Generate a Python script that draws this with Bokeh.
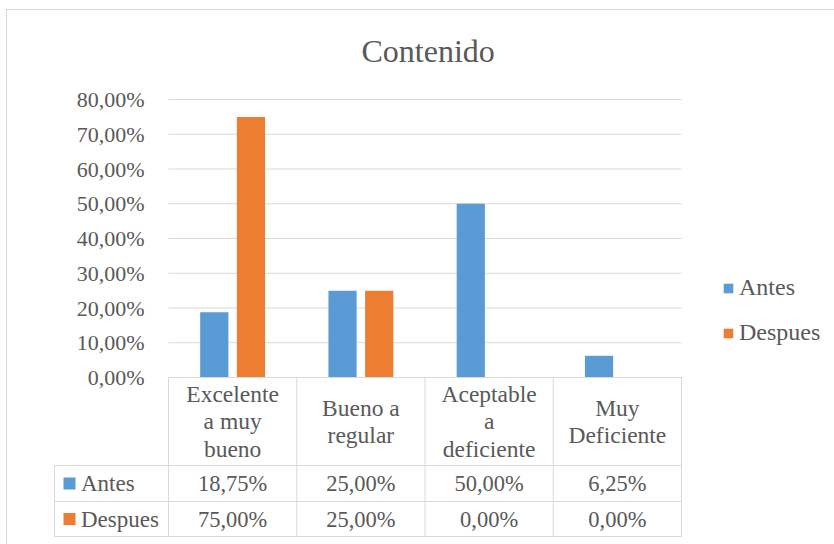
from bokeh.plotting import figure
from bokeh.models import (ColumnDataSource, Range1d, FixedTicker,
                          CustomJSTickFormatter, Legend, LegendItem)
from bokeh.core.properties import value
from bokeh.embed import file_html
from bokeh.resources import INLINE

# ---- data ----
title_text = "Contenido"
categories = ["Excelente a muy bueno", "Bueno a regular",
              "Aceptable a deficiente", "Muy Deficiente"]
header_labels = ["Excelente\na muy\nbueno", "Bueno a\nregular",
                 "Aceptable\na\ndeficiente", "Muy\nDeficiente"]
series_names = ["Antes", "Despues"]
antes = [0.1875, 0.25, 0.50, 0.0625]
despues = [0.75, 0.25, 0.0, 0.0]
y_ticks = [0.0, 0.1, 0.2, 0.3, 0.4, 0.5, 0.6, 0.7, 0.8]

# ---- style / layout ----
FONT = "'Liberation Serif', 'Times New Roman', serif"
TXT = "#595959"
GRID = "#D9D9D9"
COLORS = ["#5B9BD5", "#ED7D31"]
W, H = 834, 544
CAT_PX = 128.25          # pixels per category
Y_PX = 347.5             # pixels per 1.0 on the value axis
LEFT_BORDER = 52
PLOT_LEFT_PX = 168 - LEFT_BORDER
TOP_BORDER = 98
PY = 1.0 / Y_PX          # one pixel in value units

n = len(categories)
x_start = -PLOT_LEFT_PX / CAT_PX
x_end = x_start + (W - LEFT_BORDER) / CAT_PX
y_end = 0.8 + 1 * PY
y_start = y_end - (H - TOP_BORDER) / Y_PX


def fmt(v):
    return f"{v * 100:.2f}".replace(".", ",") + "%"


idx = list(range(n))
src = ColumnDataSource(dict(
    xa=[i + 0.5 - 0.143 for i in idx], xd=[i + 0.5 + 0.143 for i in idx],
    antes=antes, despues=despues))

border_css = ("linear-gradient(#D9D9D9,#D9D9D9) 6px 9px / 1px 100% no-repeat, "
              "linear-gradient(#D9D9D9,#D9D9D9) 6px 9px / 100% 1px no-repeat, #FFFFFF")

p = figure(width=W, height=H, x_range=Range1d(x_start, x_end),
           y_range=Range1d(y_start, y_end), output_backend="svg",
           toolbar_location=None, x_axis_location=None,
           min_border_left=LEFT_BORDER, min_border_right=0,
           min_border_top=TOP_BORDER, min_border_bottom=0, title=title_text,
           styles={"background": border_css})
p.border_fill_color = None
p.background_fill_color = None
p.outline_line_color = None
p.title.text_font = FONT
p.title.text_font_size = "32px"
p.title.text_font_style = "normal"
p.title.text_color = TXT
p.title.align = "left"
p.title.standoff = 60
p.title.offset = 309

p.yaxis.ticker = FixedTicker(ticks=y_ticks)
p.yaxis.formatter = CustomJSTickFormatter(
    code="return (tick*100).toFixed(2).replace('.', ',') + '%';")
p.yaxis.major_label_text_font = FONT
p.yaxis.major_label_text_font_size = "22px"
p.yaxis.major_label_text_color = TXT
p.yaxis.axis_line_color = None
p.yaxis.major_tick_line_color = None
p.yaxis.minor_tick_line_color = None
p.yaxis.major_tick_out = 0
p.yaxis.major_tick_in = 0
p.yaxis.major_label_standoff = -92
p.xgrid.visible = False
p.ygrid.visible = False

# horizontal gridlines over the plot area only
p.segment(x0=[0] * len(y_ticks), x1=[n] * len(y_ticks), y0=y_ticks, y1=y_ticks,
          line_color=GRID, line_width=1)

r1 = p.vbar(x="xa", top="antes", width=0.22, source=src,
            fill_color=COLORS[0], line_color=None)
r2 = p.vbar(x="xd", top="despues", width=0.22, source=src,
            fill_color=COLORS[1], line_color=None)

legend = Legend(items=[LegendItem(label=series_names[0], renderers=[r1]),
                       LegendItem(label=series_names[1], renderers=[r2])],
                location=(670, 198), glyph_width=12, glyph_height=12,
                label_text_font=FONT, label_text_font_size="24px",
                label_text_color=TXT, label_standoff=5, spacing=18,
                padding=0, margin=0, border_line_color=None,
                background_fill_alpha=0, label_height=25)
p.add_layout(legend)

# ---- data table below the plot area ----
left_x = -114 / CAT_PX
hdr_b = -88 * PY
row_b = -124 * PY
bot = -159 * PY
x0 = [0, left_x, left_x, left_x] + idx + [n, left_x]
x1 = [n, n, n, n] + idx + [n, left_x]
y0 = [0, hdr_b, row_b, bot] + [0] * (n + 1) + [hdr_b]
y1 = [0, hdr_b, row_b, bot] + [bot] * (n + 1) + [bot]
p.segment(x0=x0, y0=y0, x1=x1, y1=y1, line_color=GRID, line_width=1)

centers = [i + 0.5 for i in idx]
p.text(x=centers, y=[-44 * PY] * n, text=header_labels, text_font=value(FONT),
       text_font_size="23.5px", text_color=TXT, text_align="center",
       text_baseline="middle", text_line_height=1.06)

row_y = [-106 * PY, -141.5 * PY]
for vals, yy in zip([antes, despues], row_y):
    p.text(x=centers, y=[yy] * n, text=[fmt(v) for v in vals],
           text_font=value(FONT), text_font_size="22.5px", text_color=TXT,
           text_align="center", text_baseline="middle")

p.scatter(x=[-99 / CAT_PX] * 2, y=row_y, marker="square", size=12,
          fill_color=COLORS, line_color=None)
p.text(x=[-87.5 / CAT_PX] * 2, y=row_y, text=series_names, text_font=value(FONT),
       text_font_size="23px", text_color=TXT, text_align="left",
       text_baseline="middle")

open("out.html", "w").write(file_html(p, INLINE))
